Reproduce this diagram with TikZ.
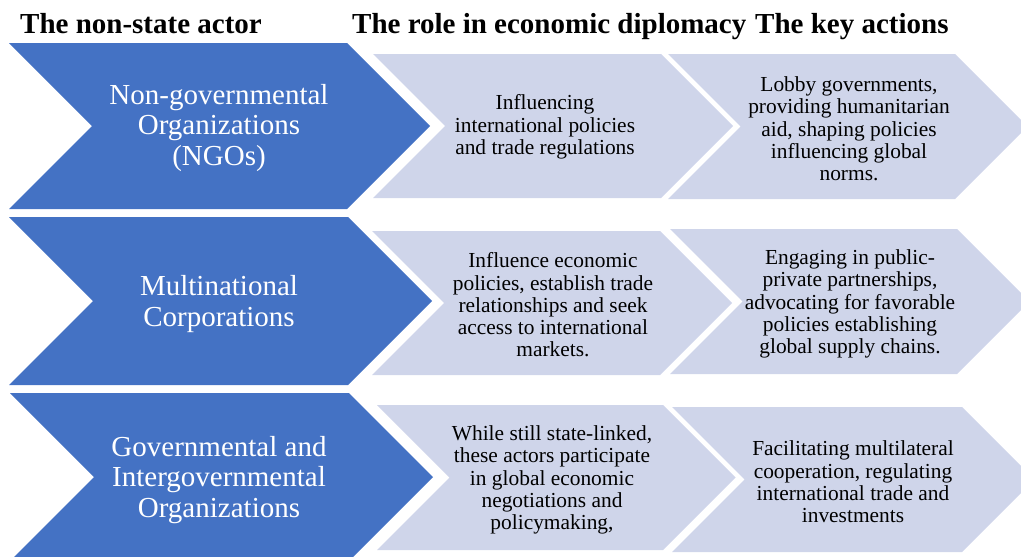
\documentclass[tikz,border=0pt]{standalone}
\usepackage{fontspec}
\setmainfont{Liberation Serif}
\usepackage{tikz}

\definecolor{actorblue}{RGB}{68,114,196}
\definecolor{rolegrey}{RGB}{207,213,234}

% chevron band: colour, left x, top y, right x, height
\newcommand{\chevbox}[5]{%
  \fill[#1] (#2,#3) -- (#4,#3) -- ({#4+#5/2},{#3+#5/2}) -- (#4,{#3+#5})
    -- (#2,{#3+#5}) -- ({#2+#5/2},{#3+#5/2}) -- cycle;}

\begin{document}
\begin{tikzpicture}[
    x=1pt, y=-1pt,
    head/.style={anchor=base west, inner sep=0pt, font=\fontsize{29}{31}\selectfont\bfseries},
    actor/.style={align=center, inner sep=0pt, text=white, font=\fontsize{29}{30.5}\selectfont},
    role/.style={align=center, inner sep=0pt, font=\fontsize{21.4}{22.3}\selectfont}]

    \useasboundingbox (0,0) rectangle (1021,557);

    % column titles
    \node at (20,33) [head] (hactor) {The non-state actor};
    \node at (352,33) [head] (hrole) {The role in economic diplomacy};
    \node at (755,33) [head] (hkey) {The key actions};

    % actors
    \chevbox{actorblue}{9}{43}{347}{166}
    \chevbox{actorblue}{9}{217}{348}{168}
    \chevbox{actorblue}{10}{393}{349}{168}

    % roles and actions
    \chevbox{rolegrey}{373}{54}{661}{144}
    \chevbox{rolegrey}{372}{231}{660}{144}
    \chevbox{rolegrey}{377}{405}{663}{145}
    \chevbox{rolegrey}{668}{54}{955}{145}
    \chevbox{rolegrey}{670}{229}{957}{145}
    \chevbox{rolegrey}{672}{407}{962}{145}

    \node at (219,128) [actor] (ngo) {Non-governmental\\Organizations\\(NGOs)};
    \node at (219,304) [actor] (mnc) {Multinational\\Corporations};
    \node at (219,480) [actor] (igo) {Governmental and\\Intergovernmental\\Organizations};

    \node at (545,127) [role] (ngorole) {Influencing\\international policies\\and trade regulations};
    \node at (553,305) [role] (mncrole) {Influence economic\\policies, establish trade\\relationships and seek\\access to international\\markets.};
    \node at (552,480) [role] (igorole) {While still state-linked,\\these actors participate\\in global economic\\negotiations and\\policymaking,};

    \node at (849,129) [role] (ngokey) {Lobby governments,\\providing humanitarian\\aid, shaping policies\\influencing global\\norms.};
    \node at (850,304) [role] (mnckey) {Engaging in public-\\private partnerships,\\advocating for favorable\\policies establishing\\global supply chains.};
    \node at (853,482) [role] (igokey) {Facilitating multilateral\\cooperation, regulating\\international trade and\\investments};

\end{tikzpicture}
\end{document}
